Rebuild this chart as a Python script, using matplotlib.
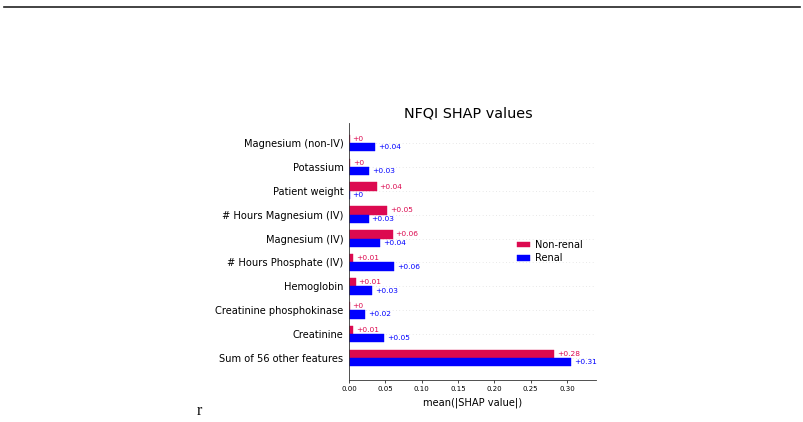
import matplotlib
matplotlib.use("Agg")
import matplotlib.pyplot as plt
from matplotlib.lines import Line2D
import numpy as np

features = ["Magnesium (non-IV)", "Potassium", "Patient weight", "# Hours Magnesium (IV)",
            "Magnesium (IV)", "# Hours Phosphate (IV)", "Hemoglobin",
            "Creatinine phosphokinase", "Creatinine", "Sum of 56 other features"]
non_renal = [0.001, 0.002, 0.038, 0.0525, 0.060, 0.006, 0.009, 0.001, 0.006, 0.282]
renal = [0.036, 0.028, 0.001, 0.027, 0.043, 0.062, 0.032, 0.022, 0.048, 0.306]
series_names = ["Non-renal", "Renal"]
colors = ["#dc0a50", "#0000ff"]
xticks = [0.00, 0.05, 0.10, 0.15, 0.20, 0.25, 0.30]


def fmt(v):
    s = "%0.2f" % v
    if "." in s:
        s = s.rstrip("0").rstrip(".")
    return "+" + s


fig = plt.figure(figsize=(8.04, 4.22), dpi=100)
ax = fig.add_axes([349 / 804, 1 - 380 / 422, 247 / 804, 257 / 422])

n = len(features)
y_pos = np.arange(n, 0, -1)
bw = 0.35
for i, (vals, col, name) in enumerate(zip([non_renal, renal], colors, series_names)):
    off = bw / 2 if i == 0 else -bw / 2
    ax.barh(y_pos + off, vals, height=bw, color=col, label=name, align="center",
            edgecolor=col, linewidth=0.3)
    for y, v in zip(y_pos, vals):
        ax.text(v + 0.004, y + off, fmt(v), color=col, fontsize=5.4,
                ha="left", va="center")

for y in y_pos:
    ax.axhline(y, color="#bbbbbb", lw=0.4, dashes=(1, 5), zorder=-1)

ax.set_yticks(y_pos)
ax.set_yticklabels(features, fontsize=7.1)
ax.set_xticks(xticks)
ax.set_xticklabels(["%.2f" % t for t in xticks], fontsize=5.0)
ax.set_xlim(0, 0.34)
ax.set_ylim(1 - 22 / 23.9, n + 20 / 23.9)
ax.tick_params(axis="y", length=0, pad=4)
ax.tick_params(axis="x", length=2.5, width=0.5, pad=1.5)
for s in ["top", "right"]:
    ax.spines[s].set_visible(False)
for s in ["left", "bottom"]:
    ax.spines[s].set_linewidth(0.6)
    ax.spines[s].set_color("#333333")
ax.set_xlabel("mean(|SHAP value|)", fontsize=7.1, labelpad=4)
ax.set_title("NFQI SHAP values", fontsize=10.4, pad=4, x=0.485)
ax.legend(frameon=False, fontsize=7.0, loc="center left",
          bbox_to_anchor=(0.665, 0.50), handlelength=1.3, handleheight=0.5,
          handletextpad=0.5, labelspacing=0.35, borderaxespad=0)

fig.add_artist(Line2D([4 / 804, 800 / 804], [1 - 6.5 / 422, 1 - 6.5 / 422],
                      transform=fig.transFigure, color="#222222", lw=1.2))
fig.text(197 / 804, 1 - 415 / 422, "r", family="Liberation Serif", fontsize=11.5,
         ha="left", va="baseline")

fig.savefig("out.png", dpi=100)
